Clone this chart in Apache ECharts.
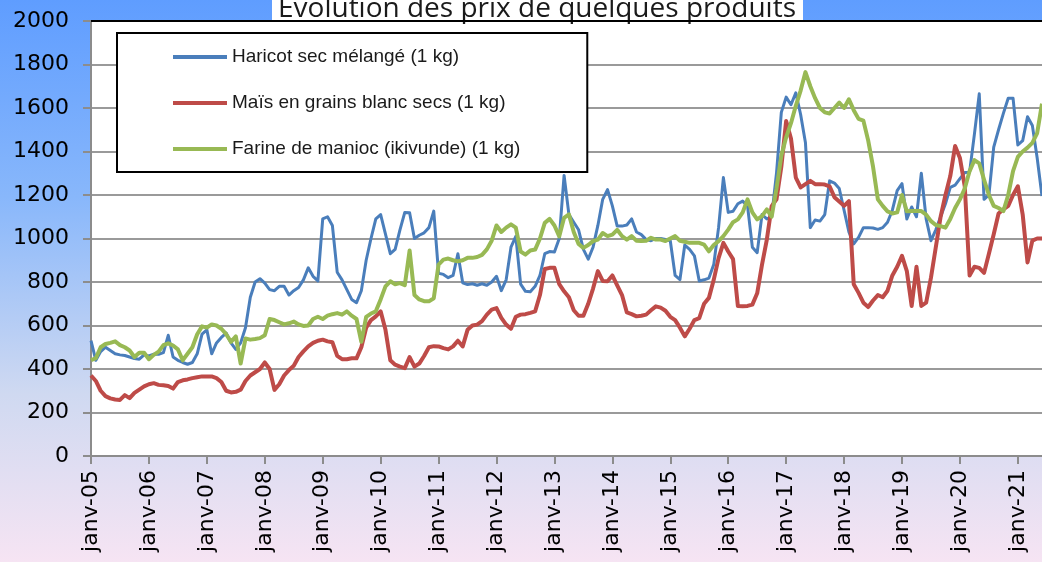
<!DOCTYPE html>
<html>
<head>
<meta charset="utf-8">
<script src="https://cdn.jsdelivr.net/npm/echarts@6/dist/echarts.min.js"></script>
<style>
  html, body { margin: 0; padding: 0; }
  #chart { width: 1042px; height: 562px; }
</style>
</head>
<body>
<div id="chart"></div>
<script>
// Monthly prices (FBu per kg), January 2005 to June 2021
const monthNames = ['janv', 'févr', 'mars', 'avr', 'mai', 'juin', 'juil', 'août', 'sept', 'oct', 'nov', 'déc'];
const firstYear = 2005;
const lastYear = 2021;
const lastMonthOfLastYear = 6;

const haricot = [
  530, 440, 480, 500, 485, 470, 465, 462, 455, 448, 445, 465,      // 2005
  460, 468, 468, 475, 555, 455, 440, 430, 422, 430, 470, 560,      // 2006
  580, 470, 520, 545, 565, 520, 490, 520, 590, 730, 800, 815,      // 2007
  795, 765, 760, 780, 780, 740, 760, 775, 810, 865, 826, 805,      // 2008
  1090, 1100, 1060, 845, 810, 765, 720, 705, 760, 900, 1000, 1090, // 2009
  1110, 1020, 930, 950, 1040, 1120, 1118, 1000, 1015, 1026, 1050, 1126, // 2010
  840, 835, 820, 830, 930, 796, 788, 792, 785, 792, 785, 800,      // 2011
  826, 760, 810, 960, 1010, 790, 757, 755, 780, 830, 930, 940,     // 2012
  938, 1000, 1290, 1110, 1075, 1040, 950, 905, 960, 1060, 1180, 1225, // 2013
  1150, 1057, 1057, 1062, 1090, 1030, 1018, 995, 990, 1000, 1000, 995, // 2014
  990, 830, 811, 970, 950, 920, 805, 810, 818, 880, 1050, 1280,    // 2015
  1120, 1125, 1160, 1172, 1150, 960, 935, 1110, 1090, 1100, 1300, 1580, // 2016
  1650, 1615, 1670, 1570, 1440, 1050, 1085, 1080, 1110, 1265, 1255, 1230, // 2017
  1130, 1030, 975, 1005, 1050, 1050, 1048, 1042, 1050, 1075, 1130, 1220, // 2018
  1252, 1090, 1145, 1100, 1300, 1090, 990, 1040, 1100, 1160, 1235, 1245, // 2019
  1275, 1303, 1305, 1480, 1665, 1180, 1200, 1420, 1500, 1575, 1645, 1645, // 2020
  1430, 1450, 1560, 1520, 1370, 1195                                // 2021
];

const mais = [
  370, 345, 300, 275, 265, 260, 258, 280, 266, 290, 305, 320,      // 2005
  330, 335, 327, 325, 322, 310, 340, 348, 352, 358, 362, 366,      // 2006
  366, 366, 358, 340, 300, 292, 295, 305, 345, 370, 385, 400,      // 2007
  430, 400, 304, 330, 370, 395, 415, 455, 481, 504, 520, 530,      // 2008
  535, 527, 523, 460, 445, 445, 449, 449, 500, 590, 625, 642,      // 2009
  665, 580, 440, 420, 411, 404, 455, 411, 425, 460, 500, 505,      // 2010
  504, 496, 490, 504, 530, 504, 580, 600, 604, 620, 650, 673,      // 2011
  680, 635, 604, 585, 640, 650, 652, 658, 665, 740, 860, 865,      // 2012
  865, 790, 757, 730, 670, 645, 645, 700, 770, 850, 805, 803,      // 2013
  830, 785, 740, 660, 652, 642, 645, 650, 670, 688, 682, 668,      // 2014
  640, 625, 590, 550, 585, 625, 634, 700, 727, 810, 910, 980,      // 2015
  940, 905, 690, 688, 690, 696, 748, 880, 995, 1149, 1180, 1330,   // 2016
  1540, 1460, 1280, 1235, 1250, 1265, 1250, 1250, 1248, 1240, 1190, 1170, // 2017
  1150, 1172, 790, 750, 705, 685, 715, 740, 730, 760, 830, 870,    // 2018
  920, 850, 690, 870, 690, 705, 820, 960, 1100, 1200, 1287, 1425,  // 2019
  1370, 1240, 830, 870, 865, 842, 930, 1020, 1115, 1134, 1150, 1200, // 2020
  1240, 1110, 890, 990, 1000, 1000                                  // 2021
];

const farine = [
  440, 450, 500, 515, 520, 527, 510, 500, 485, 455, 475, 475,      // 2005
  445, 465, 480, 510, 518, 508, 490, 440, 470, 500, 560, 596,      // 2006
  590, 605, 600, 585, 560, 525, 550, 425, 540, 535, 538, 542,      // 2007
  555, 630, 625, 615, 605, 610, 618, 605, 598, 600, 630, 640,      // 2008
  630, 645, 652, 657, 650, 665, 645, 630, 525, 640, 655, 665,      // 2009
  720, 780, 803, 790, 795, 785, 945, 740, 720, 712, 711, 725,      // 2010
  880, 903, 908, 900, 895, 900, 911, 911, 915, 925, 950, 990,      // 2011
  1060, 1030, 1050, 1065, 1050, 940, 926, 945, 949, 1000, 1072, 1090, // 2012
  1060, 1010, 1095, 1111, 1030, 975, 957, 970, 988, 995, 1025, 1011, // 2013
  1018, 1040, 1011, 995, 1011, 990, 988, 990, 1003, 995, 995, 988, // 2014
  1000, 1011, 990, 985, 980, 980, 980, 972, 941, 970, 988, 1011,  // 2015
  1041, 1075, 1088, 1120, 1180, 1120, 1088, 1103, 1134, 1100, 1230, 1380, // 2016
  1465, 1530, 1610, 1680, 1765, 1700, 1645, 1600, 1580, 1575, 1600, 1625, // 2017
  1600, 1640, 1590, 1550, 1542, 1450, 1330, 1180, 1150, 1125, 1115, 1120, // 2018
  1200, 1125, 1126, 1126, 1126, 1110, 1080, 1062, 1057, 1050, 1090, 1140, // 2019
  1180, 1230, 1310, 1360, 1345, 1270, 1200, 1150, 1140, 1126, 1200, 1310, // 2020
  1375, 1400, 1418, 1440, 1485, 1620                                // 2021
];

const seriesNames = [
  'Haricot sec mélangé (1 kg)',
  'Maïs en grains blanc secs (1 kg)',
  'Farine de manioc (ikivunde) (1 kg)'
];
const seriesColors = ['#4a7ebb', '#be4b48', '#98b954'];
const seriesWidths = [3, 4, 4];
const titleText = 'Évolution des prix de quelques produits';

// Category labels: "janv-05", "févr-05", ...
const months = [];
for (let y = firstYear; y <= lastYear; y++) {
  const last = (y === lastYear) ? lastMonthOfLastYear : 12;
  for (let m = 0; m < last; m++) {
    months.push(monthNames[m] + '-' + String(y % 100).padStart(2, '0'));
  }
}

const chart = echarts.init(document.getElementById('chart'), null, { renderer: 'canvas' });

const axisGray = '#8c8c8c';
const gridGray = '#9a9a9a';

const option = {
  animation: false,
  backgroundColor: {
    type: 'linear', x: 0, y: 0, x2: 0, y2: 1,
    colorStops: [
      { offset: 0, color: '#5f9dff' },
      { offset: 0.35, color: '#88b7fb' },
      { offset: 0.7, color: '#cfd9f1' },
      { offset: 1, color: '#f6e4f3' }
    ]
  },
  grid: {
    left: 91, right: -2, top: 21, bottom: 106,
    show: true, backgroundColor: '#ffffff', borderWidth: 0
  },
  legend: {
    orient: 'vertical',
    left: 117, top: 33,
    icon: 'rect',
    itemWidth: 54, itemHeight: 4,
    itemGap: 26,
    padding: [14, 67, 13, 56],
    backgroundColor: '#ffffff',
    borderColor: '#000000', borderWidth: 2,
    textStyle: { fontFamily: 'Liberation Sans', fontSize: 19, color: '#1a1a1a', lineHeight: 20 },
    data: seriesNames
  },
  xAxis: [
    {
      type: 'category',
      data: months,
      boundaryGap: false,
      axisLine: { show: true, lineStyle: { color: axisGray, width: 2 } },
      axisTick: { show: true, interval: 11, length: 8, lineStyle: { color: axisGray, width: 2 } },
      axisLabel: {
        interval: 11, rotate: 90, margin: 14,
        fontFamily: 'DejaVu Sans', fontSize: 22, color: '#000'
      },
      splitLine: { show: false }
    },
    {
      type: 'category',
      data: months,
      position: 'top',
      boundaryGap: false,
      axisLine: { show: true, lineStyle: { color: '#000', width: 2 } },
      axisTick: { show: false },
      axisLabel: { show: false },
      splitLine: { show: false }
    }
  ],
  yAxis: {
    type: 'value',
    min: 0, max: 2000, interval: 200,
    axisLine: { show: true, lineStyle: { color: axisGray, width: 2 } },
    axisTick: { show: true, length: 8, lineStyle: { color: axisGray, width: 2 } },
    axisLabel: {
      margin: 22, fontFamily: 'DejaVu Sans', fontSize: 22, color: '#000',
      formatter: (v) => String(v)
    },
    splitLine: { show: true, lineStyle: { color: gridGray, width: 2 } }
  },
  series: [haricot, mais, farine].map((values, k) => ({
    name: seriesNames[k],
    type: 'line',
    data: values,
    showSymbol: false,
    symbol: 'none',
    color: seriesColors[k],
    lineStyle: { color: seriesColors[k], width: seriesWidths[k], join: 'round' },
    z: 3 + k
  })),
  graphic: [
    {
      type: 'group',
      z: 100,
      children: [
        { type: 'rect', shape: { x: 272, y: -10, width: 531, height: 31 }, style: { fill: '#ffffff' } },
        {
          type: 'text',
          x: 537, y: 9,
          style: {
            text: titleText,
            fill: '#1a1a1a',
            font: '28px "Open Sans"',
            textAlign: 'center',
            textVerticalAlign: 'middle'
          }
        }
      ]
    }
  ]
};

chart.setOption(option);
</script>
</body>
</html>
